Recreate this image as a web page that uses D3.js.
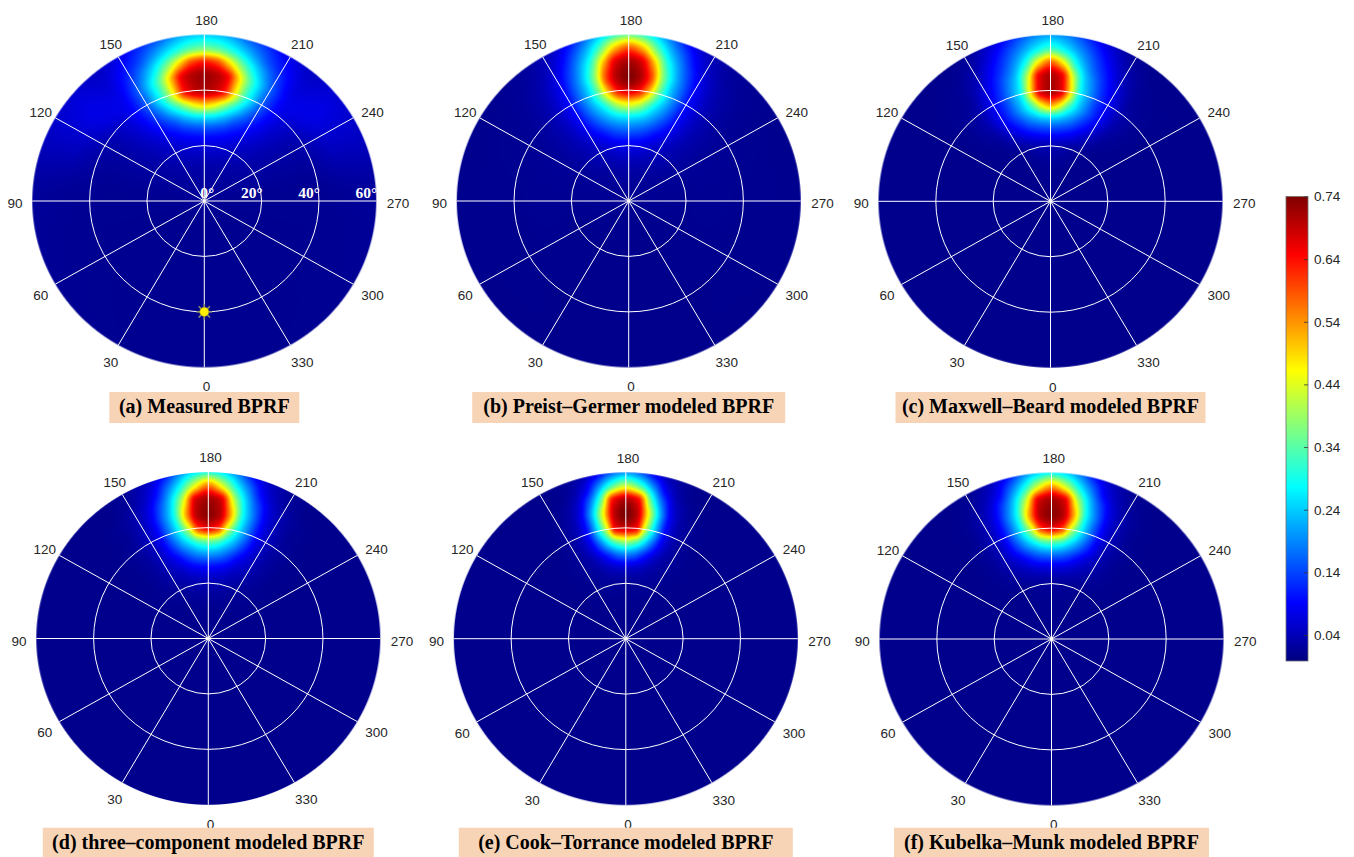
<!DOCTYPE html>
<html>
<head>
<meta charset="utf-8">
<script src="https://cdn.jsdelivr.net/npm/d3@7"></script>
<style>
  body { margin: 0; background: #fff; }
  svg { display: block; }
</style>
</head>
<body>
<svg id="chart" width="1354" height="857"></svg>
<script>
// ---- Sampling grid of the hemispherical BPRF maps ----
// rows: view zenith angle (deg); columns: azimuth offset from the 180° (forward) direction
const zenithNodes = [0, 10, 20, 25, 30, 35, 40, 45, 50, 55, 60];
const azimuthOffsetNodes = [0, 5, 10, 15, 20, 25, 30, 40, 50, 60, 90, 180];

const measuredBPRF = [
  [.02, .02, .02, .02, .02, .02, .02, .02, .02, .02, .02, .02],
  [.027, .027, .027, .026, .026, .025, .025, .023, .021, .02, .013, .012],
  [.067, .067, .065, .062, .057, .052, .047, .038, .029, .025, .013, .012],
  [.126, .124, .116, .106, .093, .079, .067, .048, .034, .026, .013, .012],
  [.255, .249, .224, .192, .152, .125, .098, .061, .039, .027, .013, .012],
  [.507, .479, .41, .326, .254, .186, .134, .071, .043, .027, .013, .012],
  [.706, .688, .635, .481, .337, .24, .16, .078, .05, .035, .014, .012],
  [.718, .704, .66, .504, .35, .247, .163, .078, .07, .05, .015, .012],
  [.633, .604, .504, .381, .28, .2, .138, .07, .075, .06, .016, .012],
  [.365, .347, .304, .251, .193, .14, .105, .059, .07, .06, .018, .012],
  [.24, .232, .205, .165, .135, .105, .078, .05, .06, .055, .02, .012]
];

const preistGermerBPRF = [
  [.014, .014, .014, .014, .014, .014, .014, .014, .014, .014, .014, .014],
  [.025, .025, .025, .024, .024, .023, .021, .019, .018, .017, .014, .011],
  [.079, .078, .074, .067, .057, .05, .044, .034, .024, .019, .013, .01],
  [.154, .15, .139, .121, .098, .081, .062, .039, .026, .019, .014, .01],
  [.258, .25, .228, .195, .157, .118, .085, .044, .026, .018, .014, .01],
  [.457, .429, .354, .271, .21, .152, .098, .045, .025, .017, .013, .01],
  [.677, .642, .518, .356, .242, .167, .103, .042, .021, .016, .012, .01],
  [.738, .707, .598, .383, .243, .159, .093, .036, .019, .014, .012, .01],
  [.713, .68, .53, .329, .213, .132, .075, .03, .017, .013, .012, .01],
  [.592, .525, .375, .248, .163, .093, .051, .022, .015, .012, .011, .01],
  [.351, .314, .245, .174, .106, .06, .038, .019, .013, .012, .011, .01]
];

const maxwellBeardBPRF = [
  [.01, .01, .01, .01, .01, .01, .01, .01, .01, .01, .01, .01],
  [.012, .012, .012, .012, .011, .011, .011, .01, .01, .01, .01, .01],
  [.039, .038, .035, .03, .023, .02, .016, .012, .01, .01, .01, .01],
  [.119, .116, .106, .092, .074, .053, .037, .016, .011, .01, .01, .01],
  [.249, .238, .209, .176, .135, .101, .07, .024, .013, .01, .01, .01],
  [.538, .476, .35, .253, .186, .13, .09, .031, .014, .01, .01, .01],
  [.712, .673, .481, .277, .194, .13, .088, .028, .014, .01, .01, .01],
  [.708, .662, .436, .253, .174, .112, .071, .019, .013, .01, .01, .01],
  [.577, .481, .304, .2, .134, .087, .046, .016, .011, .01, .01, .01],
  [.325, .277, .213, .153, .099, .057, .029, .012, .01, .01, .01, .01],
  [.206, .191, .151, .105, .065, .034, .016, .01, .01, .01, .01, .01]
];

const threeComponentBPRF = [
  [.01, .01, .01, .01, .01, .01, .01, .01, .01, .01, .01, .01],
  [.012, .012, .012, .012, .011, .011, .011, .01, .01, .01, .01, .01],
  [.038, .038, .036, .032, .028, .023, .019, .015, .012, .011, .01, .01],
  [.084, .082, .074, .063, .047, .039, .03, .018, .012, .01, .01, .01],
  [.193, .184, .16, .123, .085, .06, .041, .019, .011, .01, .01, .01],
  [.356, .332, .27, .207, .139, .082, .046, .019, .011, .01, .01, .01],
  [.664, .61, .416, .271, .174, .09, .049, .019, .011, .01, .01, .01],
  [.73, .701, .521, .296, .176, .086, .044, .014, .01, .01, .01, .01],
  [.716, .682, .444, .258, .145, .069, .036, .014, .01, .01, .01, .01],
  [.562, .457, .306, .189, .09, .044, .023, .01, .01, .01, .01, .01],
  [.296, .263, .193, .108, .055, .03, .016, .01, .01, .01, .01, .01]
];

const cookTorranceBPRF = [
  [.01, .01, .01, .01, .01, .01, .01, .01, .01, .01, .01, .01],
  [.01, .01, .01, .01, .01, .01, .01, .01, .01, .01, .01, .01],
  [.018, .018, .017, .017, .016, .014, .012, .011, .01, .01, .01, .01],
  [.051, .047, .042, .033, .024, .02, .016, .011, .01, .01, .01, .01],
  [.172, .158, .117, .076, .044, .025, .019, .012, .01, .01, .01, .01],
  [.394, .353, .264, .159, .075, .036, .02, .011, .01, .01, .01, .01],
  [.683, .654, .409, .227, .089, .037, .02, .01, .01, .01, .01, .01],
  [.743, .695, .459, .229, .081, .03, .017, .01, .01, .01, .01, .01],
  [.706, .654, .357, .164, .053, .022, .012, .01, .01, .01, .01, .01],
  [.43, .352, .21, .08, .028, .012, .01, .01, .01, .01, .01, .01],
  [.194, .157, .08, .034, .018, .011, .01, .01, .01, .01, .01, .01]
];

const kubelkaMunkBPRF = [
  [.01, .01, .01, .01, .01, .01, .01, .01, .01, .01, .01, .01],
  [.011, .011, .011, .011, .011, .011, .01, .01, .01, .01, .01, .01],
  [.021, .021, .02, .018, .016, .014, .012, .011, .01, .01, .01, .01],
  [.06, .058, .053, .045, .036, .029, .022, .014, .011, .01, .01, .01],
  [.165, .158, .138, .106, .074, .051, .035, .016, .011, .01, .01, .01],
  [.349, .326, .265, .2, .133, .077, .041, .016, .01, .01, .01, .01],
  [.66, .608, .42, .27, .168, .085, .044, .016, .01, .01, .01, .01],
  [.731, .702, .522, .292, .17, .08, .039, .012, .01, .01, .01, .01],
  [.713, .679, .442, .253, .14, .064, .032, .012, .01, .01, .01, .01],
  [.532, .44, .295, .18, .083, .04, .02, .01, .01, .01, .01, .01],
  [.271, .243, .18, .1, .05, .026, .014, .01, .01, .01, .01, .01]
];

const panelTitles = [
  "(a) Measured BPRF",
  "(b) Preist\u2013Germer modeled BPRF",
  "(c) Maxwell\u2013Beard modeled BPRF",
  "(d) three\u2013component modeled BPRF",
  "(e) Cook\u2013Torrance modeled BPRF",
  "(f) Kubelka\u2013Munk modeled BPRF"
];
const panelFields = [measuredBPRF, preistGermerBPRF, maxwellBeardBPRF,
                     threeComponentBPRF, cookTorranceBPRF, kubelkaMunkBPRF];

const azimuthTicks = [0, 30, 60, 90, 120, 150, 180, 210, 240, 270, 300, 330];
const zenithRings = [20, 40];
const zenithLabels = [0, 20, 40, 60];
const colorbarTicks = [0.04, 0.14, 0.24, 0.34, 0.44, 0.54, 0.64, 0.74];
const colorRange = [0, 0.74];
const sunPosition = { zenith: 40, azimuth: 0 };

// ---- Layout ----
const W = 1354, H = 857;
const RX = 172, RY = 166.3, ZMAX = 60;
const panelLayout = [
  { cx: 204.3, cy: 201.0, boxW: 190, boxTop: 392 },
  { cx: 628.7, cy: 201.0, boxW: 313, boxTop: 392 },
  { cx: 1050.5, cy: 201.3, boxW: 310, boxTop: 392 },
  { cx: 208.3, cy: 638.5, boxW: 331, boxTop: 827.7 },
  { cx: 625.8, cy: 638.7, boxW: 334, boxTop: 827.7 },
  { cx: 1051.5, cy: 639.0, boxW: 315, boxTop: 827.7 }
];

const svg = d3.select("#chart");
svg.append("rect").attr("width", W).attr("height", H).attr("fill", "#fff");

// zenith angle -> pixel radius (plots are slightly squashed vertically)
const rX = d3.scaleLinear().domain([0, ZMAX]).range([0, RX]);
const rY = d3.scaleLinear().domain([0, ZMAX]).range([0, RY]);

// MATLAB-style jet colormap
function jet(t) {
  const c = x => Math.max(0, Math.min(1, x));
  return [c(1.5 - Math.abs(4 * t - 3)), c(1.5 - Math.abs(4 * t - 2)), c(1.5 - Math.abs(4 * t - 1))];
}
const tScale = d3.scaleLinear().domain(colorRange).range([0, 1]).clamp(true);
const color = d3.scaleSequential(t => {
  const [r, g, b] = jet(t);
  return d3.rgb(r * 255, g * 255, b * 255).toString();
}).domain(colorRange).clamp(true);

const LUT_N = 1024;
const lut = d3.range(LUT_N).map(i => {
  const c = d3.rgb(color(colorRange[0] + (colorRange[1] - colorRange[0]) * i / (LUT_N - 1)));
  return [Math.round(c.r), Math.round(c.g), Math.round(c.b)];
});

// shape-preserving piecewise cubic (smooth shading between mesh nodes)
function pchip(xs, ys, flatEnds) {
  const n = xs.length, h = [], d = [], m = new Array(n);
  for (let k = 0; k < n - 1; k++) { h[k] = xs[k + 1] - xs[k]; d[k] = (ys[k + 1] - ys[k]) / h[k]; }
  m[0] = flatEnds ? 0 : d[0];
  m[n - 1] = flatEnds ? 0 : d[n - 2];
  for (let k = 1; k < n - 1; k++) {
    if (d[k - 1] * d[k] <= 0) m[k] = 0;
    else {
      const w1 = 2 * h[k] + h[k - 1], w2 = h[k] + 2 * h[k - 1];
      m[k] = (w1 + w2) / (w1 / d[k - 1] + w2 / d[k]);
    }
  }
  return x => {
    let k = d3.bisectRight(xs, x) - 1;
    k = Math.max(0, Math.min(n - 2, k));
    const t = (x - xs[k]) / h[k], t2 = t * t, t3 = t2 * t;
    return (2 * t3 - 3 * t2 + 1) * ys[k] + (t3 - 2 * t2 + t) * h[k] * m[k] +
           (-2 * t3 + 3 * t2) * ys[k + 1] + (t3 - t2) * h[k] * m[k + 1];
  };
}

const zStep = 0.25, dStep = 0.5;
const zFine = d3.range(0, ZMAX + 1e-9, zStep);
const dFine = d3.range(0, 180 + 1e-9, dStep);

function buildTable(grid) {
  const cols = azimuthOffsetNodes.map((_, j) => pchip(zenithNodes, grid.map(r => r[j]), false));
  const table = new Float32Array(zFine.length * dFine.length);
  zFine.forEach((z, i) => {
    const f = pchip(azimuthOffsetNodes, cols.map(c => c(z)), true);
    dFine.forEach((dd, j) => { table[i * dFine.length + j] = f(dd); });
  });
  return table;
}

function lookup(table, z, dd) {
  const fi = Math.min(z / zStep, zFine.length - 1.0001);
  const fj = Math.min(dd / dStep, dFine.length - 1.0001);
  const i = Math.floor(fi), j = Math.floor(fj), a = fi - i, b = fj - j, nd = dFine.length;
  const v00 = table[i * nd + j], v01 = table[i * nd + j + 1];
  const v10 = table[(i + 1) * nd + j], v11 = table[(i + 1) * nd + j + 1];
  return (v00 * (1 - b) + v01 * b) * (1 - a) + (v10 * (1 - b) + v11 * b) * a;
}

function renderDisc(grid) {
  const table = buildTable(grid);
  const w = Math.ceil(2 * RX) + 4, h = Math.ceil(2 * RY) + 4;
  const canvas = document.createElement("canvas");
  canvas.width = w; canvas.height = h;
  const ctx = canvas.getContext("2d");
  const img = ctx.createImageData(w, h);
  const ox = w / 2, oy = h / 2;
  for (let py = 0; py < h; py++) {
    for (let px = 0; px < w; px++) {
      const dx = px + 0.5 - ox, dy = py + 0.5 - oy;
      const u = rX.invert(dx), v = rY.invert(dy);
      const z = Math.hypot(u, v);
      const alpha = Math.max(0, Math.min(1, (ZMAX - z) / ZMAX * RY + 0.5));
      if (alpha <= 0) continue;
      const theta = Math.atan2(-u, v) * 180 / Math.PI;   // azimuth, 0 at bottom, 180 at top
      const dd = 180 - Math.abs(theta);                   // offset from the 180° direction
      const val = lookup(table, Math.min(z, ZMAX), dd);
      const c = lut[Math.round(tScale(val) * (LUT_N - 1))];
      const o = (py * w + px) * 4;
      img.data[o] = c[0]; img.data[o + 1] = c[1]; img.data[o + 2] = c[2];
      img.data[o + 3] = Math.round(alpha * 255);
    }
  }
  ctx.putImageData(img, 0, 0);
  return { url: canvas.toDataURL(), w, h };
}

const deg = Math.PI / 180;
const polarX = (cx, zen, az) => cx - rX(zen) * Math.sin(az * deg);
const polarY = (cy, zen, az) => cy + rY(zen) * Math.cos(az * deg);

panelFields.forEach((grid, idx) => {
  const { cx, cy, boxW, boxTop } = panelLayout[idx];
  const g = svg.append("g").attr("class", "panel");

  const disc = renderDisc(grid);
  g.append("image")
    .attr("href", disc.url)
    .attr("x", cx - disc.w / 2).attr("y", cy - disc.h / 2)
    .attr("width", disc.w).attr("height", disc.h);

  // grid: zenith rings and azimuth spokes
  g.selectAll("ellipse.ring").data(zenithRings).enter().append("ellipse")
    .attr("cx", cx).attr("cy", cy)
    .attr("rx", d => rX(d)).attr("ry", d => rY(d))
    .attr("fill", "none").attr("stroke", "#fff").attr("stroke-width", 1);

  g.selectAll("line.spoke").data(azimuthTicks).enter().append("line")
    .attr("x1", cx).attr("y1", cy)
    .attr("x2", d => polarX(cx, ZMAX, d)).attr("y2", d => polarY(cy, ZMAX, d))
    .attr("stroke", "#fff").attr("stroke-width", 1);

  // azimuth labels
  g.selectAll("text.az").data(azimuthTicks).enter().append("text")
    .attr("x", d => cx + 2.3 - 191.5 * Math.sin(d * deg))
    .attr("y", d => cy + 2.3 + 183.3 * Math.cos(d * deg))
    .attr("dy", "0.36em")
    .attr("text-anchor", "middle")
    .attr("font-family", "'Liberation Sans', Arial, sans-serif")
    .attr("font-size", 13.5)
    .attr("fill", "#262626")
    .text(d => d);

  // zenith labels only on the first panel
  if (idx === 0) {
    g.selectAll("text.zen").data(zenithLabels).enter().append("text")
      .attr("x", d => cx + rX(d) + (d === 0 ? 10 : 1))
      .attr("y", cy - 3)
      .attr("text-anchor", "end")
      .attr("font-family", "'Liberation Serif', 'Times New Roman', serif")
      .attr("font-weight", "bold")
      .attr("font-size", 15.5)
      .attr("fill", "#fff")
      .text(d => d + "\u00B0");

    // sun (illumination) position
    const sx = polarX(cx, sunPosition.zenith, sunPosition.azimuth);
    const sy = polarY(cy, sunPosition.zenith, sunPosition.azimuth);
    const sun = g.append("g").attr("transform", `translate(${sx},${sy})`);
    sun.selectAll("line").data(d3.range(0, 360, 45)).enter().append("line")
      .attr("x1", 0).attr("y1", 0)
      .attr("x2", d => 8 * Math.cos(d * deg)).attr("y2", d => 8 * Math.sin(d * deg))
      .attr("stroke", "#8c8c78").attr("stroke-width", 1.6);
    sun.append("circle").attr("r", 4.6).attr("fill", "#ffee00")
      .attr("stroke", "#8a8a20").attr("stroke-width", 0.6);
  }

  // caption box
  g.append("rect")
    .attr("x", cx - boxW / 2).attr("y", boxTop)
    .attr("width", boxW).attr("height", 31)
    .attr("fill", "#f7d4b6");
  g.append("text")
    .attr("x", cx).attr("y", boxTop + 21.3)
    .attr("text-anchor", "middle")
    .attr("font-family", "'Liberation Serif', 'Times New Roman', serif")
    .attr("font-weight", "bold")
    .attr("font-size", 20)
    .attr("fill", "#000")
    .text(panelTitles[idx]);
});

// ---- Colorbar ----
const cbX = 1286, cbW = 22;
const cbScale = d3.scaleLinear().domain(colorRange).range([660, 196.5]);
const defs = svg.append("defs");
const grad = defs.append("linearGradient").attr("id", "jetGrad")
  .attr("x1", 0).attr("y1", 1).attr("x2", 0).attr("y2", 0);
d3.range(0, 1.0001, 1 / 32).forEach(t => {
  grad.append("stop").attr("offset", t)
    .attr("stop-color", color(colorRange[0] + t * (colorRange[1] - colorRange[0])));
});
svg.append("rect")
  .attr("x", cbX).attr("y", cbScale(colorRange[1]))
  .attr("width", cbW).attr("height", cbScale(colorRange[0]) - cbScale(colorRange[1]) + 1)
  .attr("fill", "url(#jetGrad)")
  .attr("stroke", "#6e6e6e").attr("stroke-width", 0.8);

const cbAxis = d3.axisRight(cbScale)
  .tickValues(colorbarTicks)
  .tickFormat(d3.format(".2f"))
  .tickSizeInner(-4).tickSizeOuter(0).tickPadding(6);
const cbG = svg.append("g").attr("transform", `translate(${cbX + cbW},0)`).call(cbAxis);
cbG.select(".domain").remove();
cbG.selectAll(".tick line").attr("stroke", "#333").attr("stroke-width", 0.8);
cbG.selectAll(".tick text")
  .attr("font-family", "'Liberation Sans', Arial, sans-serif")
  .attr("font-size", 13.5)
  .attr("fill", "#262626");
</script>
</body>
</html>
